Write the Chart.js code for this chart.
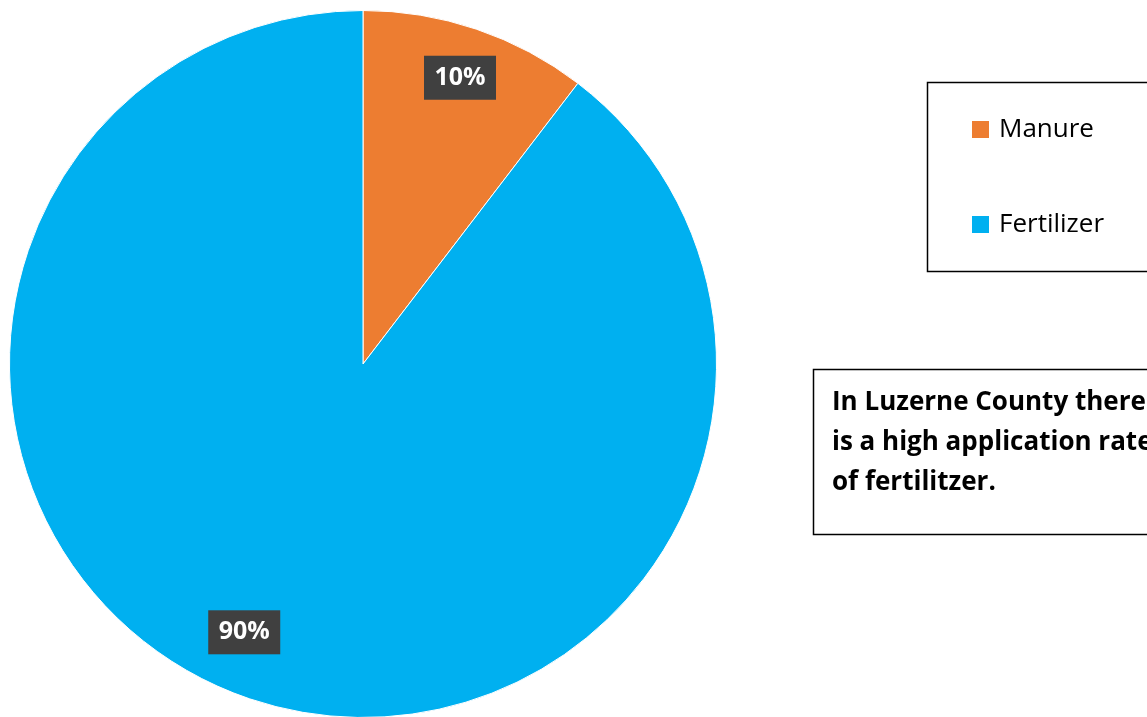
<!DOCTYPE html>
<html>
<head>
<meta charset="utf-8">
<script src="https://cdn.jsdelivr.net/npm/chart.js@4"></script>
<style>
  html, body { margin: 0; padding: 0; background: #fff; overflow: hidden; }
  #wrap { position: relative; width: 1147px; height: 717px; overflow: hidden; }
  canvas { position: absolute; left: 0; top: 0; }
</style>
</head>
<body>
<div id="wrap"><canvas id="pieChart" width="1147" height="730"></canvas></div>
<script>
// datos
const categories = ["Manure", "Fertilizer"];
const shares = [10.4, 89.6];
const sliceColors = ["#ED7D31", "#00B0F0"];
const noteLines = ["In Luzerne County there", "is a high application rate", "of fertilitzer."];

// etiquetas de porcentaje en cajas oscuras
const labelRadius = [0.855, 0.83];
const labelShift = [0, 0.09]; // radianes
const boxLabels = {
    id: 'boxLabels',
    afterDatasetsDraw(chart) {
        const ctx = chart.ctx;
        const meta = chart.getDatasetMeta(0);
        const total = shares.reduce((a, b) => a + b, 0);
        ctx.save();
        ctx.font = 'bold 25px "Open Sans"';
        ctx.textAlign = 'center';
        ctx.textBaseline = 'middle';
        meta.data.forEach((arc, i) => {
            const p = arc.getProps(['x', 'y', 'startAngle', 'endAngle', 'outerRadius'], true);
            const mid = (p.startAngle + p.endAngle) / 2 + labelShift[i];
            const r = p.outerRadius * labelRadius[i];
            const x = p.x + Math.cos(mid) * r;
            const y = p.y + Math.sin(mid) * r;
            const txt = Math.round(shares[i] / total * 100) + '%';
            const w = 72, h = 44;
            ctx.fillStyle = '#404040';
            ctx.fillRect(x - w / 2, y - h / 2, w, h);
            ctx.fillStyle = '#ffffff';
            ctx.fillText(txt, x, y);
        });
        ctx.restore();
    }
};

// leyenda y cuadro de texto a la derecha
const sideBoxes = {
    id: 'sideBoxes',
    afterDraw(chart) {
        const ctx = chart.ctx;
        ctx.save();
        ctx.strokeStyle = '#000';
        ctx.lineWidth = 1.5;
        ctx.strokeRect(927.5, 82.5, 240, 189);
        ctx.font = '26px "Open Sans"';
        ctx.textBaseline = 'middle';
        categories.forEach((c, i) => {
            const y = 130 + i * 95;
            ctx.fillStyle = sliceColors[i];
            ctx.fillRect(972, y - 9, 17, 17);
            ctx.fillStyle = '#000';
            ctx.fillText(c, 999, y);
        });
        ctx.strokeRect(813.5, 369.5, 360, 165);
        ctx.font = 'bold 26px "Open Sans"';
        ctx.textBaseline = 'alphabetic';
        noteLines.forEach((l, i) => {
            ctx.fillText(l, 832, 410 + i * 40);
        });
        ctx.restore();
    }
};

window.onload = function() {
    const ctx = document.getElementById('pieChart').getContext('2d');
    new Chart(ctx, {
        type: 'pie',
        data: {
            labels: categories,
            datasets: [{
                data: shares,
                backgroundColor: sliceColors,
                borderColor: '#ffffff',
                borderWidth: 1
            }]
        },
        options: {
            responsive: false,
            animation: false,
            devicePixelRatio: 1,
            layout: { padding: { left: 9, top: 10, right: 430, bottom: 12 } },
            plugins: {
                legend: { display: false },
                tooltip: { enabled: false }
            }
        },
        plugins: [boxLabels, sideBoxes]
    });
};
</script>
</body>
</html>
